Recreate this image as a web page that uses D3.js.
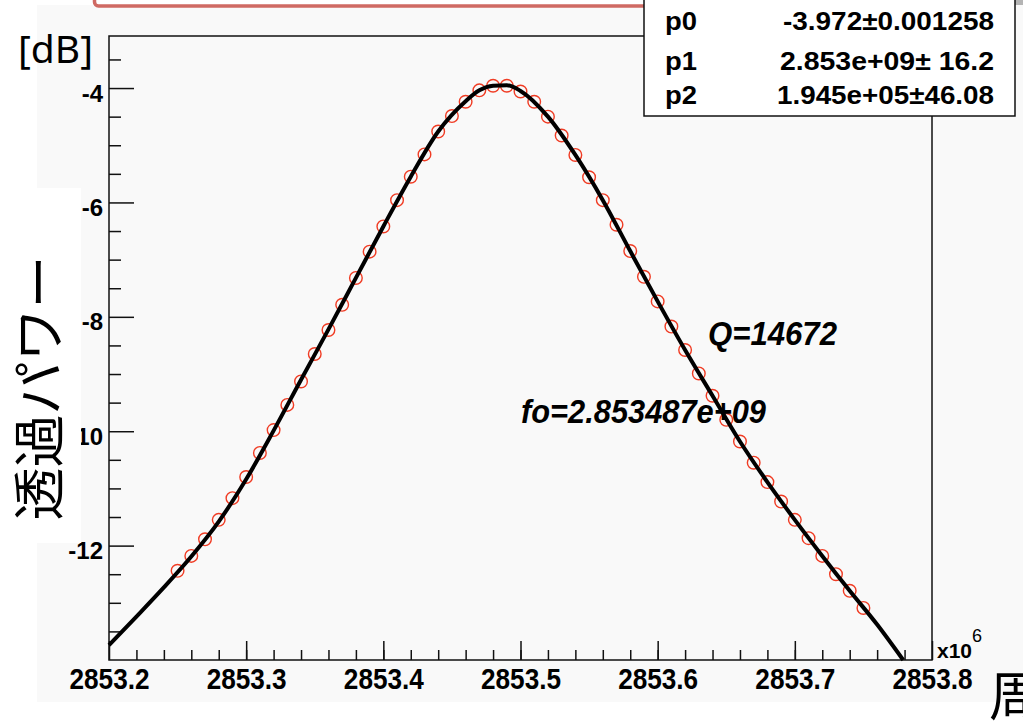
<!DOCTYPE html>
<html>
<head>
<meta charset="utf-8">
<script src="https://cdn.jsdelivr.net/npm/d3@7/dist/d3.min.js"></script>
<style>
body { margin:0; background:#fff; }
svg { display:block; }
text { font-family: "Liberation Sans", Arial, sans-serif; }
</style>
</head>
<body>
<svg id="chart" width="1023" height="723"></svg>
<script>
//measured transmission (frequency in MHz, power in dB)
var freqs = [2853.25, 2853.26, 2853.27, 2853.28, 2853.29, 2853.30, 2853.31, 2853.32, 2853.33, 2853.34,
	2853.35, 2853.36, 2853.37, 2853.38, 2853.39, 2853.40, 2853.41, 2853.42, 2853.43, 2853.44,
	2853.45, 2853.46, 2853.47, 2853.48, 2853.49, 2853.50, 2853.51, 2853.52, 2853.53, 2853.54,
	2853.55, 2853.56, 2853.57, 2853.58, 2853.59, 2853.60, 2853.61, 2853.62, 2853.63, 2853.64,
	2853.65, 2853.66, 2853.67, 2853.68, 2853.69, 2853.70, 2853.71, 2853.72, 2853.73, 2853.74, 2853.75];
var power = [-12.44, -12.18, -11.89, -11.55, -11.17, -10.80, -10.38, -9.98, -9.54, -9.13,
	-8.65, -8.23, -7.79, -7.32, -6.86, -6.42, -5.96, -5.55, -5.16, -4.76,
	-4.49, -4.24, -4.04, -3.96, -3.96, -4.06, -4.24, -4.50, -4.83, -5.17,
	-5.56, -5.96, -6.39, -6.85, -7.30, -7.73, -8.17, -8.58, -8.99, -9.38,
	-9.80, -10.18, -10.55, -10.89, -11.23, -11.55, -11.87, -12.18, -12.50, -12.79, -13.09];

//fitted curve
var fitFreqs = [2853.20, 2853.22, 2853.24, 2853.26, 2853.28, 2853.30, 2853.32, 2853.34, 2853.36, 2853.38,
	2853.40, 2853.42, 2853.44, 2853.46, 2853.47, 2853.48, 2853.49, 2853.50, 2853.52, 2853.54,
	2853.56, 2853.58, 2853.60, 2853.62, 2853.64, 2853.66, 2853.68, 2853.70, 2853.72, 2853.74,
	2853.76, 2853.779];
var fitPower = [-13.74, -13.24, -12.73, -12.19, -11.58, -10.84, -9.99, -9.10, -8.22, -7.32,
	-6.42, -5.55, -4.76, -4.23, -4.04, -3.96, -3.95, -4.05, -4.50, -5.17,
	-5.96, -6.85, -7.73, -8.58, -9.38, -10.18, -10.89, -11.55, -12.18, -12.79,
	-13.38, -14.0];

var xTicks = [2853.2, 2853.3, 2853.4, 2853.5, 2853.6, 2853.7, 2853.8];
var yTicks = [-4, -6, -8, -10, -12];
var fitNames = ["p0", "p1", "p2"];
var fitValues = ["-3.972\u00b10.001258", "2.853e+09\u00b1  16.2", "1.945e+05\u00b146.08"];

function drawChart()
{
	var svg = d3.select("#chart");

	//plot frame
	var frameLeft = 109, frameRight = 932, frameTop = 36, frameBottom = 660;

	var x = d3.scaleLinear().domain([2853.2, 2853.8]).range([frameLeft, frameRight]);
	var y = d3.scaleLinear().domain([-14, -3.09]).range([frameBottom, frameTop]);

	//canvas background
	svg.append("rect").attr("x", 37).attr("y", 5).attr("width", 986).attr("height", 697).attr("fill", "#f9f9f9");

	//bits of the slide above
	svg.append("rect").attr("x", 94.5).attr("y", -20).attr("width", 796).attr("height", 26).attr("rx", 4)
		.attr("fill", "#fff").attr("stroke", "#cf6a63").attr("stroke-width", 3.5);
	svg.append("rect").attr("x", 925).attr("y", 0).attr("width", 98).attr("height", 5).attr("fill", "#b4b4b4");

	//frame
	svg.append("rect").attr("x", frameLeft).attr("y", frameTop)
		.attr("width", frameRight - frameLeft).attr("height", frameBottom - frameTop)
		.attr("fill", "none").attr("stroke", "#111").attr("stroke-width", 1.5);

	//y axis, major + minor ticks
	var yMinor = d3.range(-13.5, -3.2, 0.5).filter(function(v) { return v % 2 != 0; });
	svg.append("g").attr("transform", "translate(" + frameLeft + ",0)")
		.call(d3.axisLeft(y).tickValues(yMinor).tickSize(-12).tickFormat(""))
		.call(function(g) { g.select(".domain").remove(); });
	var yAxis = svg.append("g").attr("transform", "translate(" + frameLeft + ",0)")
		.call(d3.axisLeft(y).tickValues(yTicks).tickSize(-25).tickPadding(6).tickFormat(function(d) { return String(d); }))
		.call(function(g) { g.select(".domain").remove(); });
	yAxis.selectAll("text").attr("dy", 13).attr("font-size", 24).attr("font-weight", "bold")
		.attr("font-family", "Liberation Sans, Arial, sans-serif").attr("fill", "#000");

	//x axis, major + minor ticks
	var xMinor = d3.range(2853.22, 2853.79, 0.02);
	svg.append("g").attr("transform", "translate(0," + frameBottom + ")")
		.call(d3.axisBottom(x).tickValues(xMinor).tickSize(-10).tickFormat(""))
		.call(function(g) { g.select(".domain").remove(); });
	var xAxis = svg.append("g").attr("transform", "translate(0," + frameBottom + ")")
		.call(d3.axisBottom(x).tickValues(xTicks).tickSize(-19).tickPadding(0).tickFormat(d3.format(".1f")))
		.call(function(g) { g.select(".domain").remove(); });
	xAxis.selectAll("text").attr("y", 29).attr("dy", 0).attr("font-size", 29).attr("font-weight", "bold")
		.attr("font-family", "Liberation Sans, Arial, sans-serif").attr("fill", "#000")
		.attr("textLength", 80).attr("lengthAdjust", "spacingAndGlyphs");
	svg.selectAll(".tick line").attr("stroke", "#111").attr("stroke-width", 1.5);

	//x10^6
	var expo = svg.append("text").attr("x", 937).attr("y", 658).attr("font-size", 21).attr("font-weight", "bold");
	expo.append("tspan").text("x10");
	expo.append("tspan").attr("dy", -16).attr("font-size", 18).attr("font-weight", "normal").text("6");

	//data points
	svg.append("g").selectAll("circle")
		.data(freqs)
		.enter().append("circle")
		.attr("cx", function(d) { return x(d); })
		.attr("cy", function(d, i) { return y(power[i]); })
		.attr("r", 6.3)
		.attr("fill", "none")
		.attr("stroke", "#f03c24")
		.attr("stroke-width", 1.4);

	//fit curve
	var fitLine = d3.line()
		.x(function(d) { return x(d); })
		.y(function(d, i) { return y(fitPower[i]); })
		.curve(d3.curveMonotoneX);
	svg.append("path").datum(fitFreqs)
		.attr("d", fitLine)
		.attr("fill", "none").attr("stroke", "#000").attr("stroke-width", 4).attr("stroke-linejoin", "round");

	//annotations
	svg.append("text").attr("x", 708).attr("y", 345).attr("font-size", 33).attr("font-weight", "bold")
		.attr("font-style", "italic").attr("textLength", 129).attr("lengthAdjust", "spacingAndGlyphs").text("Q=14672");
	svg.append("text").attr("x", 521).attr("y", 423).attr("font-size", 33).attr("font-weight", "bold")
		.attr("font-style", "italic").attr("textLength", 245).attr("lengthAdjust", "spacingAndGlyphs").text("fo=2.853487e+09");

	//fit result box
	svg.append("rect").attr("x", 644).attr("y", -2).attr("width", 371).attr("height", 118)
		.attr("fill", "#fff").attr("stroke", "#111").attr("stroke-width", 1.5);
	var rowY = [30, 70, 104];
	var valueWidth = [211, 214, 217];
	svg.append("g").selectAll("text").data(fitNames).enter().append("text")
		.attr("x", 665).attr("y", function(d, i) { return rowY[i]; })
		.attr("font-size", 25).attr("font-weight", "bold")
		.attr("textLength", 32).attr("lengthAdjust", "spacingAndGlyphs")
		.text(function(d) { return d; });
	svg.append("g").selectAll("text").data(fitValues).enter().append("text")
		.attr("x", function(d, i) { return 994 - valueWidth[i]; })
		.attr("y", function(d, i) { return rowY[i]; })
		.attr("font-size", 25).attr("font-weight", "bold")
		.attr("textLength", function(d, i) { return valueWidth[i]; }).attr("lengthAdjust", "spacingAndGlyphs")
		.text(function(d) { return d; });

	//axis titles pasted on the slide
	svg.append("rect").attr("x", 0).attr("y", 188).attr("width", 81).attr("height", 355).attr("fill", "#fff");
	svg.append("text").attr("transform", "translate(59,388) rotate(-90)")
		.attr("text-anchor", "middle").attr("font-size", 53)
		.style("font-family", "'Noto Sans CJK JP', sans-serif")
		.text("透過パワー");
	svg.append("text").attr("x", 18).attr("y", 63).attr("font-size", 39)
		.style("font-family", "'Noto Sans', sans-serif")
		.text("[dB]");
	svg.append("text").attr("x", 989).attr("y", 716).attr("font-size", 53)
		.style("font-family", "'Noto Sans CJK JP', sans-serif")
		.text("周波数");
}

drawChart();
</script>
</body>
</html>
